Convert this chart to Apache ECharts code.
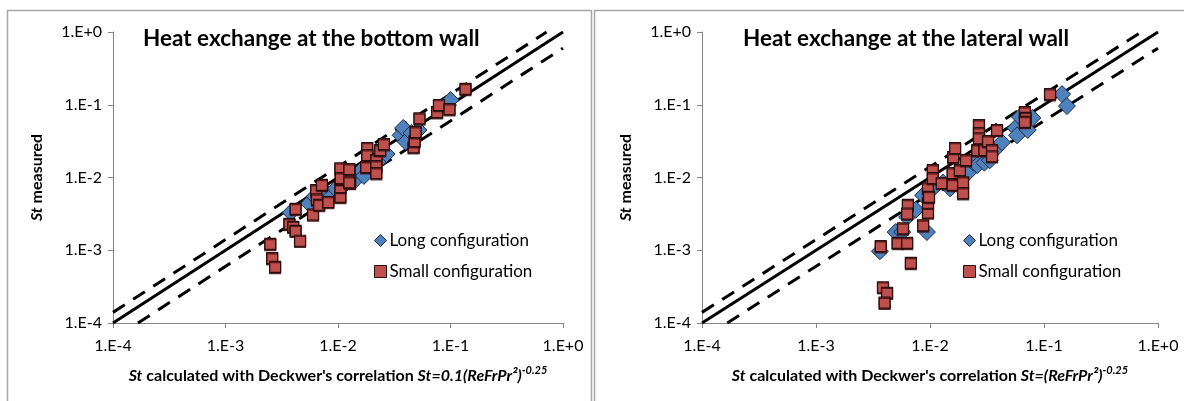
<!DOCTYPE html>
<html>
<head>
<meta charset="utf-8">
<script src="https://cdn.jsdelivr.net/npm/echarts@6/dist/echarts.min.js"></script>
<style>
html,body{margin:0;padding:0;background:#fff;}
#c{width:1184px;height:401px;}
</style>
</head>
<body>
<div id="c"></div>
<script>
// ---------- data ----------
const tickLabels = ['1.E-4', '1.E-3', '1.E-2', '1.E-1', '1.E+0'];
const seriesNames = ['Long configuration', 'Small configuration'];
const panelTitles = ['Heat exchange at the bottom wall', 'Heat exchange at the lateral wall'];
const correlationText = ['St=0.1(ReFrPr\u00B2)', 'St=(ReFrPr\u00B2)'];
const correlationExp = '-0.25';

// Bottom wall
const bottomLong = [
  [0.0038, 0.0033], [0.0055, 0.0044], [0.0062, 0.0055], [0.0070, 0.0052], [0.0078, 0.0063],
  [0.0086, 0.0056], [0.0095, 0.0070], [0.0070, 0.0068], [0.012, 0.0085], [0.0135, 0.0095],
  [0.0145, 0.0095], [0.016, 0.0125], [0.017, 0.0105], [0.020, 0.014], [0.022, 0.0165],
  [0.025, 0.019], [0.027, 0.021], [0.036, 0.038], [0.038, 0.048], [0.040, 0.031],
  [0.045, 0.041], [0.052, 0.045], [0.095, 0.099], [0.100, 0.116]
];
const bottomSmall = [
  [0.0025, 0.00122], [0.0026, 0.00078], [0.00276, 0.00059], [0.0042, 0.0037], [0.0037, 0.0023],
  [0.0040, 0.0021], [0.0042, 0.00185], [0.0046, 0.00135], [0.0060, 0.0031], [0.0064, 0.0067],
  [0.0065, 0.0050], [0.0068, 0.0042], [0.0072, 0.0079], [0.0082, 0.0046], [0.0105, 0.0054],
  [0.0105, 0.0074], [0.0106, 0.0095], [0.0128, 0.0084], [0.0126, 0.0115], [0.0105, 0.0134],
  [0.0106, 0.0098], [0.0126, 0.0130], [0.0126, 0.0086], [0.0178, 0.0139], [0.0182, 0.0254],
  [0.0182, 0.0203], [0.0219, 0.0173], [0.0219, 0.0143], [0.0219, 0.0115], [0.0237, 0.0238],
  [0.0256, 0.0288], [0.047, 0.026], [0.048, 0.0316], [0.049, 0.042], [0.053, 0.065],
  [0.076, 0.079], [0.079, 0.099], [0.098, 0.087], [0.136, 0.165]
];
// Lateral wall
const lateralLong = [
  [0.00364, 0.00097], [0.0050, 0.00178], [0.0057, 0.00178], [0.0063, 0.00286], [0.0094, 0.00178],
  [0.0075, 0.0036], [0.0087, 0.0057], [0.011, 0.0075], [0.013, 0.0085], [0.015, 0.0071],
  [0.018, 0.0095], [0.022, 0.012], [0.024, 0.016], [0.026, 0.0148], [0.030, 0.016],
  [0.0335, 0.0173], [0.038, 0.025], [0.0428, 0.0305], [0.056, 0.048], [0.058, 0.038],
  [0.0615, 0.068], [0.072, 0.045], [0.079, 0.066], [0.144, 0.140], [0.159, 0.096]
];
const lateralSmall = [
  [0.0037, 0.00114], [0.00387, 0.00031], [0.0042, 0.00026], [0.0040, 0.00019], [0.0052, 0.00126],
  [0.0058, 0.0020], [0.0063, 0.00126], [0.0068, 0.00067], [0.0064, 0.0042], [0.0063, 0.0032],
  [0.0087, 0.0022], [0.0096, 0.0033], [0.0096, 0.0045], [0.0096, 0.0071], [0.0098, 0.0054],
  [0.0106, 0.0126], [0.0106, 0.0098], [0.0127, 0.0084], [0.0158, 0.0115], [0.0158, 0.0079],
  [0.0160, 0.0190], [0.0166, 0.0254], [0.0183, 0.0126], [0.0195, 0.0086], [0.0195, 0.0061],
  [0.0207, 0.0173], [0.026, 0.0238], [0.0269, 0.0525], [0.0269, 0.0407], [0.0269, 0.0346],
  [0.030, 0.0238], [0.0323, 0.0316], [0.035, 0.0238], [0.035, 0.0196], [0.0387, 0.045],
  [0.068, 0.079], [0.069, 0.066], [0.068, 0.058], [0.113, 0.140]
];
// Reference lines: St_meas = factor * St_calc
const lineFactors = [1.0, 1.4, 0.6];
const lineRange = [1e-4, 1];

// ---------- chart ----------
const FONT = 'Lato, "Noto Sans", sans-serif';
const chart = echarts.init(document.getElementById('c'), null, {renderer: 'canvas'});

function lineData(f) {
  let x0 = lineRange[0], y0 = f * x0;
  if (y0 < lineRange[0]) { y0 = lineRange[0]; x0 = y0 / f; }
  let x1 = lineRange[1], y1 = f * x1;
  if (y1 > lineRange[1]) { y1 = lineRange[1]; x1 = y1 / f; }
  return [[x0, y0], [x1, y1]];
}
function tickFmt(v) {
  const e = Math.round(Math.log10(v));
  return tickLabels[e + 4] || '';
}

const grids = [
  {left: 113, right: 621, top: 32, bottom: 78},
  {left: 702, right: 26, top: 32, bottom: 78}
];
const axisCommon = {
  type: 'log', logBase: 10, min: 1e-4, max: 1,
  axisLine: {show: true, lineStyle: {color: '#868686', width: 1}},
  axisTick: {show: true, inside: false, length: 5, lineStyle: {color: '#868686'}},
  minorTick: {show: false},
  splitLine: {show: false},
  axisLabel: {formatter: tickFmt, color: '#000', fontSize: 16, fontFamily: FONT}
};
const NAME_SIZE = 16;
const xAxes = [0, 1].map(i => Object.assign({}, axisCommon, {
  gridIndex: i,
  axisLabel: Object.assign({}, axisCommon.axisLabel, {margin: 15}),
  name: '{i|St} calculated with Deckwer\'s correlation {i|' + correlationText[i] + '}{s|' + correlationExp + '}',
  nameLocation: 'middle', nameGap: 42,
  nameTextStyle: {
    color: '#000', fontSize: NAME_SIZE, fontWeight: 'bold', fontFamily: FONT,
    rich: {
      i: {fontStyle: 'italic', fontWeight: 'bold', fontSize: NAME_SIZE, fontFamily: FONT, color: '#000'},
      s: {fontStyle: 'italic', fontWeight: 'bold', fontSize: 11, fontFamily: FONT, color: '#000', padding: [0, 0, 10, 0]}
    }
  }
}));
const yAxes = [0, 1].map(i => Object.assign({}, axisCommon, {
  gridIndex: i,
  axisLabel: Object.assign({}, axisCommon.axisLabel, {margin: 11}),
  name: '{i|St} measured',
  nameLocation: 'middle', nameGap: 68,
  nameTextStyle: {
    color: '#000', fontSize: NAME_SIZE, fontWeight: 'bold', fontFamily: FONT,
    rich: {i: {fontStyle: 'italic', fontWeight: 'bold', fontSize: NAME_SIZE, fontFamily: FONT, color: '#000'}}
  }
}));

const series = [];
[0, 1].forEach(i => {
  lineFactors.forEach((f, k) => {
    series.push({
      type: 'line', xAxisIndex: i, yAxisIndex: i, data: lineData(f),
      symbol: 'none', silent: true, z: 1,
      lineStyle: {color: '#000', width: 3, type: k === 0 ? 'solid' : [14, 10]}
    });
  });
  const longData = i === 0 ? bottomLong : lateralLong;
  const smallData = i === 0 ? bottomSmall : lateralSmall;
  series.push({
    name: seriesNames[0], type: 'scatter', xAxisIndex: i, yAxisIndex: i, data: longData,
    symbol: 'diamond', symbolSize: 17, z: 3,
    itemStyle: {color: '#4F81BD', borderColor: '#1c2b40', borderWidth: 1, opacity: 1}
  });
  series.push({
    name: seriesNames[1], type: 'scatter', xAxisIndex: i, yAxisIndex: i, data: smallData,
    symbol: 'rect', symbolSize: 11, z: 4,
    itemStyle: {color: '#C0504D', borderColor: '#2a1010', borderWidth: 1.2, opacity: 1,
      shadowColor: 'rgba(60,10,10,0.8)', shadowOffsetY: 1.2, shadowBlur: 0}
  });
});

const legends = [369, 958].map(x => ({
  orient: 'vertical', left: x, top: 227, itemGap: 14, itemWidth: 12, itemHeight: 12,
  selectedMode: false,
  textStyle: {color: '#000', fontSize: 17, fontFamily: FONT, padding: [0, 0, 0, -2]},
  data: [
    {name: seriesNames[0], icon: 'diamond', itemStyle: {color: '#4F81BD', borderColor: '#1c2b40', borderWidth: 1}},
    {name: seriesNames[1], icon: 'rect', itemStyle: {color: '#C0504D', borderColor: '#2a1010', borderWidth: 1}}
  ]
}));

chart.setOption({
  animation: false,
  backgroundColor: '#fff',
  title: [
    {text: panelTitles[0], left: 138, top: 22, textStyle: {fontSize: 22.5, fontWeight: 'bold', color: '#000', fontFamily: FONT}},
    {text: panelTitles[1], left: 738, top: 22, textStyle: {fontSize: 22.5, fontWeight: 'bold', color: '#000', fontFamily: FONT}}
  ],
  grid: grids,
  xAxis: xAxes,
  yAxis: yAxes,
  legend: legends,
  series: series,
  graphic: [
    {type: 'rect', shape: {x: 7.5, y: 10.5, width: 584, height: 420}, style: {fill: 'none', stroke: '#a6a6a6', lineWidth: 1.5}, silent: true},
    {type: 'rect', shape: {x: 594.5, y: 10.5, width: 620, height: 420}, style: {fill: 'none', stroke: '#a6a6a6', lineWidth: 1.5}, silent: true}
  ]
});
</script>
</body>
</html>
